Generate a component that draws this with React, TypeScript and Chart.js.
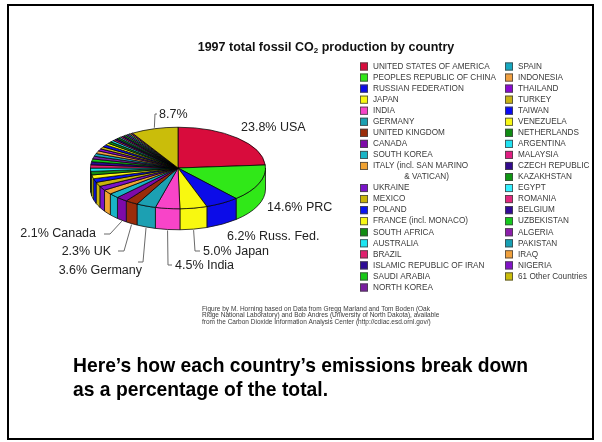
import { useEffect, useRef } from 'react';
import { Chart, registerables } from 'chart.js';

Chart.register(...registerables);

// 1997 fossil-fuel CO2 emissions, share of world total (%)
const countries = [
  'UNITED STATES OF AMERICA', 'PEOPLES REPUBLIC OF CHINA', 'RUSSIAN FEDERATION', 'JAPAN', 'INDIA',
  'GERMANY', 'UNITED KINGDOM', 'CANADA', 'SOUTH KOREA', 'ITALY (incl. SAN MARINO\n& VATICAN)',
  'UKRAINE', 'MEXICO', 'POLAND', 'FRANCE (incl. MONACO)', 'SOUTH AFRICA',
  'AUSTRALIA', 'BRAZIL', 'ISLAMIC REPUBLIC OF IRAN', 'SAUDI ARABIA', 'NORTH KOREA',
  'SPAIN', 'INDONESIA', 'THAILAND', 'TURKEY', 'TAIWAN',
  'VENEZUELA', 'NETHERLANDS', 'ARGENTINA', 'MALAYSIA', 'CZECH REPUBLIC',
  'KAZAKHSTAN', 'EGYPT', 'ROMANIA', 'BELGIUM', 'UZBEKISTAN',
  'ALGERIA', 'PAKISTAN', 'IRAQ', 'NIGERIA', '61 Other Countries',
];

const shares = [
  23.8, 14.6, 6.2, 5.0, 4.5,
  3.6, 2.3, 2.1, 1.9, 1.8,
  1.7, 1.7, 1.5, 1.5, 1.4,
  1.3, 1.3, 1.2, 1.1, 1.1,
  1.1, 1.1, 0.9, 0.9, 0.9,
  0.75, 0.75, 0.65, 0.5, 0.5,
  0.5, 0.4, 0.4, 0.4, 0.4,
  0.4, 0.4, 0.35, 0.3, 8.7,
];

const sliceColors = [
  '#d80c3c', '#30e818', '#0c0ce8', '#f8f810', '#f844c8',
  '#1ca0b2', '#9a2c0a', '#7e0aa8', '#18b4c6', '#f0a232',
  '#7a14c8', '#c8b40a', '#0a14f0', '#f8f814', '#128c12',
  '#1ae6f2', '#e01e6e', '#2e0a96', '#16c816', '#7a1ea0',
  '#16a8c0', '#f0a040', '#8a0ad2', '#c8b414', '#0a0af5',
  '#f8f814', '#108c14', '#20e2f2', '#e01e82', '#320a8c',
  '#109614', '#34f0ff', '#e0287e', '#320a96', '#16c81e',
  '#8c1eaa', '#16a0b4', '#f0a03c', '#8214c8', '#cabd0a',
];

// short names used by the call-out labels (index matches shares)
const calloutNames: Record<number, string> = {
  0: 'USA', 1: 'PRC', 2: 'Russ. Fed.', 3: 'Japan', 4: 'India',
  5: 'Germany', 6: 'UK', 7: 'Canada', 39: '',
};

const titleParts = ['1997 total fossil CO', '2', ' production by country'];
const creditLines = [
  'Figure by M. Horning based on Data from Gregg Marland and Tom Boden (Oak',
  'Ridge National Laboratory) and Bob Andres (University of North Dakota), available',
  'from the Carbon Dioxide Information Analysis Center (http://cdiac.esd.ornl.gov/)',
];
const noteLines = [
  'Here\u2019s how each country\u2019s emissions break down',
  'as a percentage of the total.',
];

// ---- drawing parameters ----
const FONT = '"Liberation Sans", Arial, Helvetica, sans-serif';
const TILT = 0.466; // vertical squash of the pie disc
const DEPTH = 21; // thickness of the pie in px

type Callout = {
  i: number; tx: number; ty: number; align: CanvasTextAlign;
  top?: boolean; elbow?: [number, number]; end?: [number, number];
};
const calloutLayout: Callout[] = [
  { i: 0, tx: 241, ty: 128, align: 'left' },
  { i: 1, tx: 267, ty: 208, align: 'left' },
  { i: 2, tx: 227, ty: 237, align: 'left' },
  { i: 3, tx: 203, ty: 252, align: 'left', elbow: [195, 251], end: [200, 251] },
  { i: 4, tx: 175, ty: 266, align: 'left', elbow: [168, 265], end: [172, 265] },
  { i: 5, tx: 142, ty: 271, align: 'right', elbow: [143, 262], end: [138, 262] },
  { i: 6, tx: 111, ty: 252, align: 'right', elbow: [124, 251], end: [118, 251] },
  { i: 7, tx: 96, ty: 234, align: 'right', elbow: [110, 234], end: [104, 234] },
  { i: 39, tx: 159, ty: 115, align: 'left', top: true, elbow: [155, 114], end: [157, 114] },
];

function pieGeometry(chart: any) {
  const arcs = chart.getDatasetMeta(0).data;
  const p = arcs[0].getProps(['x', 'y', 'outerRadius'], true);
  return { arcs, cx: p.x, cy: p.y, r: p.outerRadius, ry: p.outerRadius * TILT };
}

const slideBackground = {
  id: 'slideBackground',
  beforeDraw(chart: any) {
    const ctx = chart.ctx;
    ctx.save();
    ctx.fillStyle = '#fff';
    ctx.fillRect(0, 0, chart.width, chart.height);
    ctx.strokeStyle = '#000';
    ctx.lineWidth = 2;
    ctx.strokeRect(8, 5, 585, 434);
    ctx.restore();
  },
};

// Extrudes the pie: draws the front wall, then squashes the disc drawn by Chart.js
const pie3d = {
  id: 'pie3d',
  beforeDatasetsDraw(chart: any) {
    const ctx = chart.ctx;
    const { arcs, cx, cy, r, ry } = pieGeometry(chart);
    const colors = chart.data.datasets[0].backgroundColor;
    ctx.save();
    ctx.lineWidth = 0.8;
    ctx.strokeStyle = '#111';
    arcs.forEach((arc: any, i: number) => {
      const { startAngle, endAngle } = arc.getProps(['startAngle', 'endAngle'], true);
      const b1 = Math.max(startAngle, 0);
      const b2 = Math.min(endAngle, Math.PI);
      if (b2 <= b1) return;
      ctx.beginPath();
      ctx.ellipse(cx, cy, r, ry, 0, b1, b2, false);
      ctx.lineTo(cx + r * Math.cos(b2), cy + ry * Math.sin(b2) + DEPTH);
      ctx.ellipse(cx, cy + DEPTH, r, ry, 0, b2, b1, true);
      ctx.closePath();
      ctx.fillStyle = colors[i];
      ctx.fill();
      ctx.stroke();
    });
    ctx.restore();
    ctx.save();
    ctx.translate(cx, cy);
    ctx.scale(1, TILT);
    ctx.translate(-cx, -cy);
  },
  afterDatasetsDraw(chart: any) {
    chart.ctx.restore();
  },
};

const annotations = {
  id: 'annotations',
  afterDraw(chart: any) {
    const ctx = chart.ctx;
    const values: number[] = chart.data.datasets[0].data;
    const colors: string[] = chart.data.datasets[0].backgroundColor;
    const labels: string[] = chart.data.labels;
    const { arcs, cx, cy, r, ry } = pieGeometry(chart);
    ctx.save();

    // title with subscript
    ctx.fillStyle = '#111';
    ctx.textBaseline = 'alphabetic';
    ctx.textAlign = 'left';
    const big = `bold 12.5px ${FONT}`;
    const small = `bold 8px ${FONT}`;
    ctx.font = big;
    const w1 = ctx.measureText(titleParts[0]).width;
    const w3 = ctx.measureText(titleParts[2]).width;
    ctx.font = small;
    const w2 = ctx.measureText(titleParts[1]).width;
    let x = 326 - (w1 + w2 + w3) / 2;
    const base = 51;
    ctx.font = big;
    ctx.fillText(titleParts[0], x, base);
    x += w1;
    ctx.font = small;
    ctx.fillText(titleParts[1], x, base + 1.5);
    x += w2;
    ctx.font = big;
    ctx.fillText(titleParts[2], x, base);

    // legend, two columns of twenty
    ctx.font = `8.2px ${FONT}`;
    ctx.textBaseline = 'middle';
    const rowH = 11.05;
    labels.forEach((lab, i) => {
      const col = i < 20 ? 0 : 1;
      let row = col === 0 ? i : i - 20;
      if (col === 0 && i > 9) row += 1; // two-line entry above
      const sx = col === 0 ? 360 : 505;
      const y = 66.5 + row * rowH;
      ctx.fillStyle = colors[i];
      ctx.fillRect(sx, y - 4, 8, 8);
      ctx.strokeStyle = '#444';
      ctx.lineWidth = 0.8;
      ctx.strokeRect(sx + 0.4, y - 3.6, 7.2, 7.2);
      ctx.fillStyle = '#3a3a3a';
      const lines = lab.split('\n');
      ctx.textAlign = 'left';
      ctx.fillText(lines[0], sx + 13, y);
      if (lines.length > 1) {
        const mid = sx + 13 + ctx.measureText(lines[0]).width / 2;
        ctx.textAlign = 'center';
        lines.slice(1).forEach((ln, k) => ctx.fillText(ln, mid + 6, y + rowH * (k + 1)));
      }
    });

    // call-out labels with leader lines
    ctx.font = `12.5px ${FONT}`;
    ctx.textBaseline = 'middle';
    calloutLayout.forEach((c) => {
      const arc = arcs[c.i];
      const { startAngle, endAngle } = arc.getProps(['startAngle', 'endAngle'], true);
      const m = (startAngle + endAngle) / 2;
      if (c.elbow && c.end) {
        const sx = cx + r * Math.cos(m);
        const sy = cy + ry * Math.sin(m) + (c.top ? -1 : DEPTH + 1);
        ctx.strokeStyle = '#6a6a6a';
        ctx.lineWidth = 1;
        ctx.beginPath();
        ctx.moveTo(sx, sy);
        ctx.lineTo(c.elbow[0], c.elbow[1]);
        ctx.lineTo(c.end[0], c.end[1]);
        ctx.stroke();
      }
      const name = calloutNames[c.i];
      const text = `${values[c.i].toFixed(1)}%${name ? ' ' + name : ''}`;
      ctx.fillStyle = '#222';
      ctx.textAlign = c.align;
      ctx.fillText(text, c.tx, c.ty);
    });

    // data credit
    ctx.font = `6.5px ${FONT}`;
    ctx.fillStyle = '#3a3a3a';
    ctx.textAlign = 'left';
    creditLines.forEach((ln, k) => ctx.fillText(ln, 202, 309 + k * 6.6));

    // note below the chart
    ctx.font = `bold 19.3px ${FONT}`;
    ctx.fillStyle = '#000';
    ctx.textBaseline = 'alphabetic';
    noteLines.forEach((ln, k) => ctx.fillText(ln, 73, 372 + k * 24));

    ctx.restore();
  },
};

export default function App() {
  const canvasRef = useRef<HTMLCanvasElement | null>(null);

  useEffect(() => {
    const canvas = canvasRef.current;
    if (!canvas) return;
    const chart = new Chart(canvas, {
      type: 'pie',
      data: {
        labels: countries,
        datasets: [
          {
            data: shares,
            backgroundColor: sliceColors,
            borderColor: '#000',
            borderWidth: 1,
            clip: false,
          } as any,
        ],
      },
      options: {
        responsive: false,
        animation: false,
        events: [],
        layout: { padding: { left: 90, top: 80, right: 336, bottom: 186 } },
        plugins: {
          legend: { display: false },
          tooltip: { enabled: false },
          title: { display: false },
        },
      },
      plugins: [slideBackground, pie3d, annotations],
    });
    return () => chart.destroy();
  }, []);

  return (
    <div style={{ position: 'absolute', left: 0, top: 0, width: 602, height: 442 }}>
      <canvas ref={canvasRef} width={602} height={442} style={{ display: 'block' }} />
    </div>
  );
}
